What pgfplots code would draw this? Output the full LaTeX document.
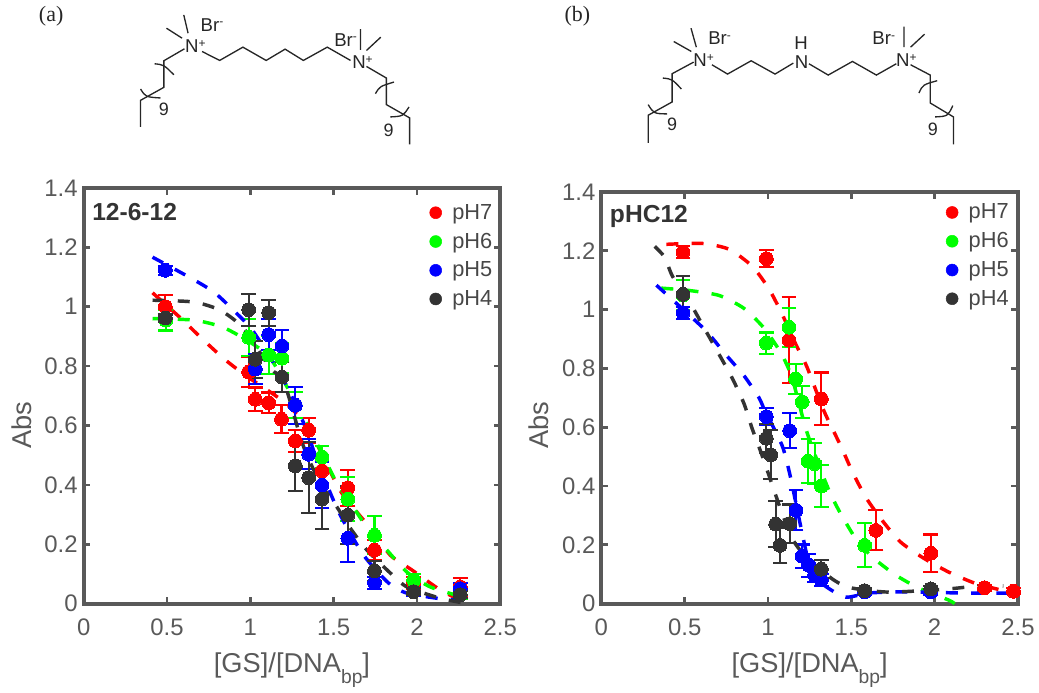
\documentclass[border=0pt]{standalone}
\usepackage{fontspec}
\usepackage{pgfplots}
\pgfplotsset{compat=1.18}
\setmainfont{Liberation Sans}
\newfontfamily\serif{Liberation Serif}
\definecolor{spine}{RGB}{89,89,89}
\definecolor{blk}{RGB}{51,51,51}
\definecolor{txt}{RGB}{89,89,89}
\pgfplotsset{
  panel/.style={
    scale only axis, width=313.5pt,
    xmin=0,xmax=2.5,ymin=0,ymax=1.4,
    xtick={0,0.5,1,1.5,2,2.5},
    xticklabels={0,0.5,1,1.5,2,2.5},
    ytick={0,0.2,0.4,0.6,0.8,1,1.2,1.4},
    yticklabels={0,0.2,0.4,0.6,0.8,1,1.2,1.4},
    axis line style={spine,line width=3pt},
    tick style={spine,line width=2pt},
    major tick length=5pt,
    tick align=inside,
    tick pos=both,
    ticklabel style={text=txt,font=\fontsize{18}{20}\selectfont},
    xticklabel style={yshift=-8pt},
    yticklabel style={xshift=-1pt},
    xlabel={[GS]/[DNA\raisebox{-9pt}{\fontsize{14.5}{14.5}\selectfont bp}]},
    ylabel={Abs},
    label style={text=txt,font=\fontsize{20.5}{23}\selectfont},
    xlabel style={yshift=-5.5pt},
    clip=false,
    legend style={draw=none,fill=none,font=\fontsize{16.4}{18}\selectfont,text=blk!90!white,
       /tikz/every odd column/.style={column sep=6pt},row sep=4.8pt,
       inner sep=0pt},
    legend cell align=left,
  },
  pts/.style={forget plot,only marks,color=#1,mark=*,mark size=5.2pt,mark options={solid,fill=#1,draw=#1,line width=0pt},
    error bars/.cd,y dir=both,y explicit,
    error bar style={color=#1,line width=1.6pt,solid},
    error mark options={color=#1,line width=1.6pt,mark size=5.6pt,rotate=90,solid}},
  crv/.style={color=#1,line width=2.6pt,dash pattern=on 9pt off 10pt,smooth,tension=0.4,no marks,forget plot},
  lg/.style={only marks,mark=*,mark size=4.5pt,color=#1,mark options={fill=#1,draw=#1}},
}
\begin{document}
\begin{tikzpicture}
\path (0,0) rectangle (779.25pt,518.25pt);
% ---- panel a
\begin{axis}[panel,height=312.75pt,at={(63pt,64pt)},anchor=south west,
  ylabel style={at={(ticklabel cs:0.43)},yshift=3pt},
  legend style={at={(0.83,0.968)},anchor=north west}]
\addlegendimage{lg=red}\addlegendentry{pH7}
\addlegendimage{lg=green}\addlegendentry{pH6}
\addlegendimage{lg=blue}\addlegendentry{pH5}
\addlegendimage{lg=blk}\addlegendentry{pH4}
\addplot[pts=red] coordinates {
(0.49,1.0) +- (0,0.04) (0.99,0.78) +- (0,0.05) (1.03,0.688) +- (0,0.04) (1.11,0.676) +- (0,0.035)
(1.187,0.621) +- (0,0.047) (1.27,0.548) +- (0,0.036) (1.35,0.584) +- (0,0.042) (1.43,0.447) +- (0,0.04)
(1.585,0.39) +- (0,0.06) (1.745,0.18) +- (0,0.033) (1.98,0.07) +- (0,0.02) (2.26,0.056) +- (0,0.03)};
\addplot[crv=red] coordinates {(0.413,1.047)(0.583,0.961)(0.72,0.887)(0.852,0.82)(0.983,0.764)(1.2,0.68)(1.35,0.59)(1.53,0.389)(1.64,0.308)(1.73,0.248)(1.84,0.163)(1.97,0.113)(2.14,0.046)(2.3,0.0)};
\addplot[pts=green] coordinates {
(0.493,0.955) +- (0,0.035) (0.99,0.897) +- (0,0.063) (1.11,0.837) +- (0,0.065) (1.19,0.827) +- (0,0.05)
(1.27,0.668) +- (0,0.044) (1.43,0.494) +- (0,0.036) (1.585,0.352) +- (0,0.075) (1.745,0.23) +- (0,0.064)
(1.98,0.079) +- (0,0.02) (2.26,0.03) +- (0,0.015)};
\addplot[crv=green] coordinates {(0.413,0.96)(0.66,0.955)(0.83,0.932)(0.98,0.887)(1.12,0.827)(1.27,0.678)(1.36,0.584)(1.51,0.416)(1.61,0.332)(1.71,0.248)(1.82,0.18)(1.94,0.106)(2.08,0.056)(2.275,0.022)};
\addplot[pts=blue] coordinates {
(0.49,1.123) +- (0,0.015) (1.03,0.79) +- (0,0.05) (1.11,0.906) +- (0,0.053) (1.19,0.868) +- (0,0.053)
(1.27,0.668) +- (0,0.063) (1.35,0.503) +- (0,0.05) (1.43,0.399) +- (0,0.078) (1.585,0.22) +- (0,0.08)
(1.745,0.07) +- (0,0.02) (1.98,0.04) +- (0,0.015) (2.26,0.05) +- (0,0.02)};
\addplot[crv=blue] coordinates {(0.413,1.167)(0.632,1.10)(0.78,1.05)(0.91,0.982)(1.02,0.915)(1.2,0.753)(1.33,0.595)(1.40,0.483)(1.53,0.309)(1.68,0.163)(1.83,0.069)(1.94,0.035)(2.16,0.015)(2.3,0.012)};
\addplot[pts=blk] coordinates {
(0.49,0.962) +- (0,0.012) (0.99,0.99) +- (0,0.054) (1.11,0.98) +- (0,0.044) (1.03,0.823) +- (0,0.063)
(1.19,0.763) +- (0,0.05) (1.27,0.464) +- (0,0.084) (1.35,0.424) +- (0,0.119) (1.43,0.352) +- (0,0.1)
(1.585,0.298) +- (0,0.097) (1.745,0.11) +- (0,0.034) (1.98,0.04) +- (0,0.012) (2.26,0.03) +- (0,0.012)};
\addplot[crv=blk] coordinates {(0.413,1.022)(0.66,1.016)(0.82,0.988)(0.96,0.927)(1.12,0.793)(1.2,0.75)(1.3,0.561)(1.34,0.5)(1.42,0.405)(1.52,0.325)(1.6,0.254)(1.70,0.18)(1.84,0.103)(1.94,0.056)(2.14,0.018)(2.3,0.0)};
\node[anchor=base west,inner sep=0pt,text=blk,font=\bfseries\fontsize{18.5}{20}\selectfont] at (axis description cs:0.02,0.923) {12-6-12};
\end{axis}
% ---- panel b
\begin{axis}[panel,height=309.75pt,at={(452.6pt,64pt)},anchor=south west,
  ylabel style={at={(ticklabel cs:0.433)},yshift=3pt},
  legend style={at={(0.827,0.978)},anchor=north west}]
\addlegendimage{lg=red}\addlegendentry{pH7}
\addlegendimage{lg=green}\addlegendentry{pH6}
\addlegendimage{lg=blue}\addlegendentry{pH5}
\addlegendimage{lg=blk}\addlegendentry{pH4}
\addplot[pts=red] coordinates {
(0.49,1.196) +- (0,0.02) (0.99,1.173) +- (0,0.029) (1.126,0.896) +- (0,0.147) (1.32,0.696) +- (0,0.09)
(1.647,0.249) +- (0,0.068) (1.977,0.171) +- (0,0.064) (2.3,0.054) +- (0,0.01) (2.473,0.042) +- (0,0.01)};
\addplot[crv=red] coordinates {(0.39,1.222)(0.607,1.225)(0.767,1.205)(0.906,1.147)(1.006,1.07)(1.085,0.984)(1.166,0.883)(1.235,0.803)(1.335,0.656)(1.436,0.537)(1.505,0.45)(1.586,0.362)(1.685,0.283)(1.794,0.21)(1.935,0.154)(2.085,0.107)(2.243,0.069)(2.4,0.046)(2.5,0.035)};
\addplot[pts=green] coordinates {
(0.49,1.05) +- (0,0.05) (0.99,0.886) +- (0,0.036) (1.126,0.94) +- (0,0.066) (1.166,0.764) +- (0,0.05)
(1.205,0.686) +- (0,0.055) (1.24,0.484) +- (0,0.075) (1.28,0.476) +- (0,0.07) (1.32,0.40) +- (0,0.071)
(1.58,0.198) +- (0,0.075)};
\addplot[crv=green] coordinates {(0.36,1.073)(0.527,1.065)(0.707,1.048)(0.856,1.004)(0.976,0.937)(1.078,0.852)(1.144,0.768)(1.234,0.582)(1.353,0.402)(1.425,0.317)(1.533,0.215)(1.635,0.154)(1.766,0.097)(1.904,0.053)(2.084,0.012)(2.12,0.0)};
\addplot[pts=blue] coordinates {
(0.49,0.989) +- (0,0.02) (0.99,0.636) +- (0,0.03) (1.13,0.588) +- (0,0.059) (1.168,0.317) +- (0,0.068)
(1.205,0.161) +- (0,0.04) (1.245,0.13) +- (0,0.04) (1.28,0.097) +- (0,0.025) (1.32,0.08) +- (0,0.02)
(1.58,0.04) +- (0,0.01) (1.977,0.04) +- (0,0.01)};
\addplot[crv=blue] coordinates {(0.33,1.083)(0.617,0.934)(0.737,0.853)(0.856,0.775)(0.946,0.70)(0.976,0.663)(1.085,0.537)(1.13,0.442)(1.168,0.34)(1.205,0.239)(1.257,0.114)(1.335,0.063)(1.465,0.022)(1.605,0.036)(1.826,0.04)(2.16,0.036)(2.5,0.036)};
\addplot[pts=blk] coordinates {
(0.49,1.052) +- (0,0.062) (0.99,0.562) +- (0,0.048) (1.016,0.506) +- (0,0.083) (1.046,0.27) +- (0,0.079)
(1.072,0.198) +- (0,0.06) (1.13,0.272) +- (0,0.065) (1.32,0.117) +- (0,0.03) (1.58,0.044) +- (0,0.01)
(1.977,0.05) +- (0,0.01)};
\addplot[crv=blk] coordinates {(0.32,1.215)(0.38,1.178)(0.427,1.113)(0.537,1.018)(0.617,0.937)(0.695,0.859)(0.784,0.768)(0.856,0.68)(0.905,0.595)(0.965,0.503)(1.016,0.419)(1.078,0.317)(1.144,0.222)(1.228,0.158)(1.395,0.08)(1.503,0.053)(1.725,0.039)(2.066,0.049)(2.263,0.06)(2.413,0.06)};
\node[anchor=base west,inner sep=0pt,text=blk,font=\bfseries\fontsize{18.5}{20}\selectfont] at (axis description cs:0.02,0.927) {pHC12};
\end{axis}
% ---- panel letters
\node[text=black!85,font=\serif\fontsize{16.5}{18}\selectfont,anchor=base] at (38.5pt,501.75pt) {(a)};
\node[text=black!85,font=\serif\fontsize{16.5}{18}\selectfont,anchor=base] at (434.5pt,501.75pt) {(b)};
% ---- molecule a
\begin{scope}[x=0.25pt,y=-0.25pt,shift={(0.8pt,518.25pt)},line width=1pt,color=black!85,line join=miter]
\draw (420,382)--(420,302)--(490,263)--(490,183)--(552,147);
\draw (605,155)--(658,182)--(728,142)--(798,182)--(855,148)--(910,182)--(982,142)--(1052,182);
\draw (1100,200)--(1160,235)--(1160,315)--(1230,355)--(1230,435);
\draw (563,100)--(550,45) (545,115)--(498,85) (1082,150)--(1082,88) (1100,152)--(1143,112);
\draw (462,192) .. controls (490,195) .. (520,225);
\draw (420,268) .. controls (435,292) .. (480,295);
\draw (1127,282) .. controls (1140,260) .. (1183,247);
\draw (1172,352) .. controls (1210,350) .. (1228,322);
\node[font=\fontsize{14}{16}\selectfont,text=black!85,inner sep=0pt] at (585,140) {N\raisebox{4pt}{\fontsize{9}{9}\selectfont +}};
\node[font=\fontsize{14}{16}\selectfont,text=black!85,inner sep=0pt] at (1088,187) {N\raisebox{4pt}{\fontsize{9}{9}\selectfont +}};
\node[font=\fontsize{14}{16}\selectfont,text=black!85,inner sep=0pt] at (635,75) {Br\raisebox{4pt}{\fontsize{9}{9}\selectfont -}};
\node[font=\fontsize{14}{16}\selectfont,text=black!85,inner sep=0pt] at (1037,120) {Br\raisebox{4pt}{\fontsize{9}{9}\selectfont -}};
\node[font=\fontsize{13.5}{16}\selectfont,text=black!85,inner sep=0pt] at (490,330) {9};
\node[font=\fontsize{13.5}{16}\selectfont,text=black!85,inner sep=0pt] at (1167,392) {9};
\end{scope}
% ---- molecule b
\begin{scope}[x=0.25pt,y=-0.25pt,shift={(390.8pt,518.25pt)},line width=1pt,color=black!85,line join=miter]
\draw (388,430)--(388,347)--(460,307)--(460,222)--(525,187);
\draw (580,195)--(627,223)--(698,183)--(770,223)--(825,190);
\draw (872,192)--(930,226)--(1003,185)--(1075,226)--(1135,192);
\draw (1178,195)--(1237,226)--(1237,310)--(1307,352)--(1307,435);
\draw (533,142)--(517,85) (518,155)--(465,125) (1158,142)--(1158,80) (1178,142)--(1220,103);
\draw (432,235) .. controls (460,238) .. (488,268);
\draw (388,315) .. controls (405,342) .. (445,343);
\draw (1203,280) .. controls (1215,255) .. (1258,243);
\draw (1252,352) .. controls (1290,350) .. (1305,318);
\node[font=\fontsize{14}{16}\selectfont,text=black!85,inner sep=0pt] at (555,182) {N\raisebox{4pt}{\fontsize{9}{9}\selectfont +}};
\node[font=\fontsize{14}{16}\selectfont,text=black!85,inner sep=0pt] at (850,187) {N};
\node[font=\fontsize{14}{16}\selectfont,text=black!85,inner sep=0pt] at (848,130) {H};
\node[font=\fontsize{14}{16}\selectfont,text=black!85,inner sep=0pt] at (1165,182) {N\raisebox{4pt}{\fontsize{9}{9}\selectfont +}};
\node[font=\fontsize{14}{16}\selectfont,text=black!85,inner sep=0pt] at (603,115) {Br\raisebox{4pt}{\fontsize{9}{9}\selectfont -}};
\node[font=\fontsize{14}{16}\selectfont,text=black!85,inner sep=0pt] at (1097,115) {Br\raisebox{4pt}{\fontsize{9}{9}\selectfont -}};
\node[font=\fontsize{13.5}{16}\selectfont,text=black!85,inner sep=0pt] at (460,375) {9};
\node[font=\fontsize{13.5}{16}\selectfont,text=black!85,inner sep=0pt] at (1245,390) {9};
\end{scope}
\end{tikzpicture}
\end{document}
